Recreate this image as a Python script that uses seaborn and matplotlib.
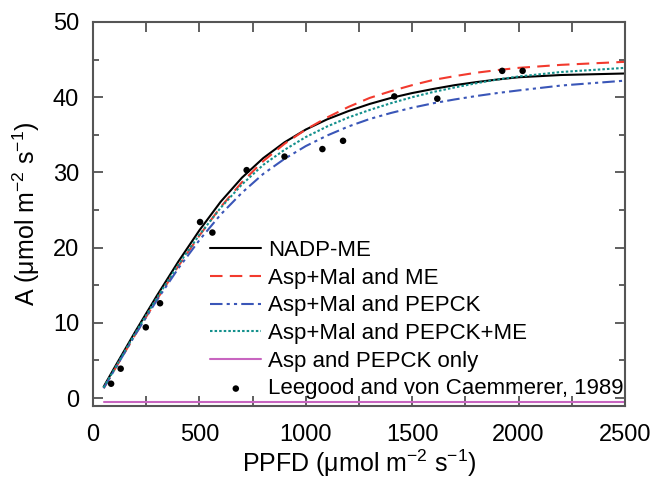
import numpy as np
import pandas as pd
from matplotlib import pyplot as plt
from matplotlib import ticker as ticker
import seaborn as sns

sns.set_style('ticks')
plt.rcParams['font.family'] = ['Liberation Sans', 'DejaVu Sans']
plt.rcParams['mathtext.fontset'] = 'custom'
plt.rcParams['mathtext.rm'] = 'Liberation Sans'
plt.rcParams['mathtext.it'] = 'Liberation Sans:italic'
plt.rcParams['text.color'] = 'black'
plt.rcParams['axes.labelcolor'] = 'black'

# light response curves
ppfd = [50, 100, 200, 300, 400, 500, 600, 700, 800, 900, 1000, 1100, 1200, 1300,
        1400, 1500, 1600, 1700, 1800, 1900, 2000, 2200, 2500]
nadp_me = [1.5, 4.0, 8.9, 13.6, 18.1, 22.3, 26.1, 29.3, 31.9, 34.0, 35.7, 37.05, 38.15, 39.1,
           39.9, 40.55, 41.1, 41.6, 42.0, 42.35, 42.65, 42.95, 43.15]
aspmal_me = [1.3, 3.7, 8.5, 13.1, 17.5, 21.6, 25.4, 28.7, 31.5, 33.8, 35.7, 37.3, 38.7, 39.9,
             40.8, 41.6, 42.3, 42.8, 43.25, 43.6, 43.9, 44.3, 44.7]
aspmal_pepck = [1.3, 3.7, 8.5, 13.0, 17.2, 21.0, 24.4, 27.3, 29.8, 31.8, 33.5, 34.9, 36.1, 37.1,
                37.9, 38.6, 39.2, 39.7, 40.15, 40.55, 40.9, 41.55, 42.2]
aspmal_pepck_me = [1.4, 3.8, 8.7, 13.3, 17.7, 21.7, 25.3, 28.4, 31.0, 33.0, 34.7, 36.1, 37.3, 38.3,
                   39.2, 40.0, 40.7, 41.3, 41.85, 42.35, 42.75, 43.35, 43.9]
asp_pepck = [-0.5] * len(ppfd)

# measured points, Leegood and von Caemmerer 1989
obs_ppfd = [85, 130, 248, 315, 503, 561, 722, 900, 1078, 1175, 1416, 1618, 1923, 2019]
obs_a = [1.9, 3.9, 9.4, 12.6, 23.4, 22.0, 30.3, 32.1, 33.1, 34.2, 40.1, 39.8, 43.5, 43.5]

names = ['NADP-ME', 'Asp+Mal and ME', 'Asp+Mal and PEPCK', 'Asp+Mal and PEPCK+ME', 'Asp and PEPCK only']
series = [nadp_me, aspmal_me, aspmal_pepck, aspmal_pepck_me, asp_pepck]
colors = ['black', '#f23a2e', '#3a56b8', '#13908c', '#c865c0']
styles = ['-', (0, (6, 3.5)), (0, (6, 2, 1.5, 2, 1.5, 2)), (0, (1.2, 1)), '-']

fig = plt.figure(figsize=(6.56, 4.82), dpi=100)
ax = fig.add_axes([0.1418, 0.1577, 0.8109, 0.7967])

for name, vals, c, ls in zip(names, series, colors, styles):
    df = pd.DataFrame({'PPFD': ppfd, 'A': vals})
    sns.lineplot(x='PPFD', y='A', data=df, color=c, linestyle=ls, linewidth=1.5, label=name, ax=ax)

obs = pd.DataFrame({'PPFD': obs_ppfd, 'A': obs_a})
sns.scatterplot(x='PPFD', y='A', data=obs, color='black', s=22, edgecolor='none',
                label='Leegood and von Caemmerer, 1989', ax=ax, zorder=5)

ax.set(xlim=(0, 2500), ylim=(-1.06, 50))
ax.xaxis.set_major_locator(ticker.MultipleLocator(500))
ax.xaxis.set_minor_locator(ticker.MultipleLocator(250))
ax.yaxis.set_major_locator(ticker.MultipleLocator(10))
ax.yaxis.set_minor_locator(ticker.MultipleLocator(5))
ax.tick_params(which='both', direction='in', top=True, right=True, colors='#444444',
               labelcolor='black', labelsize=17, width=1.2)
ax.tick_params(axis='x', which='major', length=7, pad=13)
ax.tick_params(axis='x', which='minor', length=7)
ax.tick_params(axis='y', which='major', length=7, pad=10)
ax.tick_params(axis='y', which='minor', length=4)
for s in ax.spines.values():
    s.set_color('#555555')
    s.set_linewidth(1.5)

ax.set_xlabel('PPFD (\u03bcmol m$^{-2}$ s$^{-1}$)', fontsize=18, labelpad=1)
ax.set_ylabel('A (\u03bcmol m$^{-2}$ s$^{-1}$)', fontsize=18, labelpad=8)

ax.legend(loc='lower right', bbox_to_anchor=(1.014, -0.006), frameon=False, fontsize=16,
          handlelength=2.3, handletextpad=0.3, labelspacing=0.3, borderaxespad=0.0)

plt.savefig('out.png', format='png', dpi=100)
print('finished')
